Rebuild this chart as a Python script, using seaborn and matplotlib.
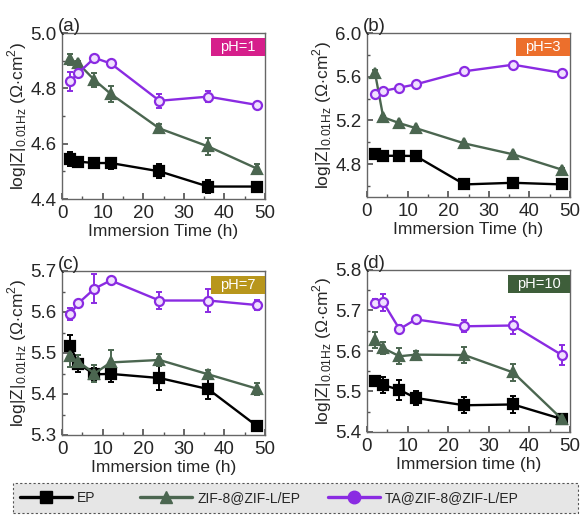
import seaborn as sns
import matplotlib.pyplot as plt
import matplotlib.lines as mlines
from matplotlib.patches import Rectangle
from matplotlib.ticker import AutoMinorLocator, MultipleLocator
import pandas as pd
import numpy as np

hours = [2, 4, 8, 12, 24, 36, 48]
series_names = ["EP", "ZIF-8@ZIF-L/EP", "TA@ZIF-8@ZIF-L/EP"]

# pH = 1
a_ep = [4.545, 4.535, 4.53, 4.53, 4.50, 4.445, 4.445]
a_ep_err = [0.025, 0.006, 0.01, 0.02, 0.025, 0.025, 0.01]
a_zif = [4.905, 4.89, 4.83, 4.78, 4.655, 4.59, 4.51]
a_zif_err = [0.02, 0.01, 0.025, 0.03, 0.015, 0.03, 0.015]
a_ta = [4.825, 4.855, 4.91, 4.89, 4.755, 4.77, 4.74]
a_ta_err = [0.035, 0.01, 0.01, 0.01, 0.025, 0.02, 0.01]

# pH = 3
b_ep = [4.89, 4.877, 4.877, 4.875, 4.615, 4.63, 4.615]
b_ep_err = [0.015, 0.01, 0.01, 0.015, 0.015, 0.015, 0.015]
b_zif = [5.63, 5.23, 5.175, 5.13, 4.99, 4.89, 4.75]
b_zif_err = [0.03, 0.015, 0.01, 0.01, 0.015, 0.01, 0.015]
b_ta = [5.44, 5.47, 5.50, 5.53, 5.65, 5.71, 5.635]
b_ta_err = [0.02, 0.02, 0.01, 0.01, 0.015, 0.015, 0.015]

# pH = 7
c_ep = [5.518, 5.474, 5.448, 5.449, 5.439, 5.412, 5.322]
c_ep_err = [0.025, 0.02, 0.015, 0.02, 0.03, 0.025, 0.01]
c_zif = [5.492, 5.479, 5.45, 5.477, 5.483, 5.448, 5.413]
c_zif_err = [0.025, 0.015, 0.02, 0.03, 0.015, 0.01, 0.015]
c_ta = [5.595, 5.621, 5.657, 5.677, 5.628, 5.628, 5.617]
c_ta_err = [0.015, 0.008, 0.035, 0.008, 0.02, 0.027, 0.012]

# pH = 10
d_ep = [5.526, 5.516, 5.504, 5.484, 5.466, 5.468, 5.432]
d_ep_err = [0.01, 0.02, 0.025, 0.018, 0.02, 0.02, 0.006]
d_zif = [5.628, 5.607, 5.587, 5.591, 5.59, 5.547, 5.432]
d_zif_err = [0.02, 0.015, 0.02, 0.01, 0.02, 0.022, 0.006]
d_ta = [5.718, 5.72, 5.654, 5.678, 5.661, 5.663, 5.59]
d_ta_err = [0.01, 0.02, 0.01, 0.008, 0.015, 0.02, 0.025]

panels = [
    ("(a)", "pH=1", "#d61f8b", (4.4, 5.0), 0.2, "Immersion Time (h)",
     [a_ep, a_zif, a_ta], [a_ep_err, a_zif_err, a_ta_err]),
    ("(b)", "pH=3", "#ec6f2c", (4.5, 6.0), 0.4, "Immersion Time (h)",
     [b_ep, b_zif, b_ta], [b_ep_err, b_zif_err, b_ta_err]),
    ("(c)", "pH=7", "#b8961c", (5.3, 5.7), 0.1, "Immersion time (h)",
     [c_ep, c_zif, c_ta], [c_ep_err, c_zif_err, c_ta_err]),
    ("(d)", "pH=10", "#3e5e3a", (5.4, 5.8), 0.1, "Immersion time (h)",
     [d_ep, d_zif, d_ta], [d_ep_err, d_zif_err, d_ta_err]),
]

colors = ["#000000", "#4b6650", "#8a2be2"]
markers = ["s", "^", "o"]
faces = ["#000000", "#4b6650", "#f0e0ff"]

sns.set_theme(style="ticks")
plt.rcParams["font.family"] = ["Liberation Sans", "DejaVu Sans"]
plt.rcParams["mathtext.fontset"] = "custom"
plt.rcParams["mathtext.rm"] = "Liberation Sans"

fig = plt.figure(figsize=(5.83, 5.15), dpi=100)
W, H = 583, 515
boxes = [(62, 33, 203, 166), (367, 33, 203, 164),
         (62, 271, 203, 164), (367, 270, 203, 162)]

ylabel = r"log|Z|$_{\mathregular{0.01Hz}}$ ($\Omega$$\cdot$cm$^{\mathregular{2}}$)"

badges = []
for (tag, ph, phcol, ylim, ystep, xlab, ys, errs), (x0, y0, w, h) in zip(panels, boxes):
    ax = fig.add_axes([x0 / W, 1 - (y0 + h) / H, w / W, h / H])
    for name, y, e, c, m, fc in zip(series_names, ys, errs, colors, markers, faces):
        df = pd.DataFrame({"t": hours, "v": y})
        sns.lineplot(data=df, x="t", y="v", ax=ax, color=c, marker=m,
                     markersize=6.5, markerfacecolor=fc, markeredgecolor=c,
                     markeredgewidth=1.6, linewidth=1.7, zorder=3)
        ax.errorbar(hours, y, yerr=e, fmt="none", ecolor=c, elinewidth=1.4,
                    capsize=2.5, capthick=1.4, zorder=2)
    ax.set_xlim(0, 50)
    ax.set_ylim(*ylim)
    ax.xaxis.set_major_locator(MultipleLocator(10))
    ax.yaxis.set_major_locator(MultipleLocator(ystep))
    ax.xaxis.set_minor_locator(AutoMinorLocator(2))
    ax.yaxis.set_minor_locator(AutoMinorLocator(2))
    ax.tick_params(which="both", direction="in", labelsize=13.5, color="#555555")
    ax.tick_params(axis="x", pad=4)
    ax.tick_params(axis="y", pad=4)
    ax.tick_params(which="major", length=4)
    ax.tick_params(which="minor", length=2)
    ax.yaxis.set_major_formatter(plt.FormatStrFormatter("%.1f"))
    for s in ax.spines.values():
        s.set_color("#666666")
        s.set_linewidth(1.0)
    ax.set_xlabel(xlab, fontsize=12.5, labelpad=2)
    ax.set_ylabel(ylabel, fontsize=12.5, labelpad=1)
    ax.text(-0.02, 0.99, tag, transform=ax.transAxes, fontsize=13.5,
            ha="left", va="bottom")
    t = ax.text(0.955, 0.915, ph, transform=ax.transAxes, fontsize=10.5,
                color="white", ha="right", va="center", zorder=6)
    badges.append((ax, t, phcol))

# badge boxes sized from the drawn text
fig.canvas.draw()
r = fig.canvas.get_renderer()
for ax, t, phcol in badges:
    bb = t.get_window_extent(r)
    inv = ax.transAxes.inverted()
    (bx0, by0), (bx1, by1) = inv.transform([(bb.x0 - 9, bb.y0 - 2),
                                            (bb.x1 + 9, bb.y1 + 2)])
    ax.add_patch(Rectangle((bx0, by0), bx1 - bx0, by1 - by0,
                           transform=ax.transAxes, fc=phcol, ec="none",
                           zorder=5))

# dashed legend box
fig.patches.append(Rectangle((13 / W, 1 - 513 / H), 565 / W, 30 / H,
                             transform=fig.transFigure, fc="#e6e6e6",
                             ec="#555555", ls=(0, (2, 2)), lw=0.8))

legend_x = [14, 134, 322]
for name, c, m, lx in zip(series_names, colors, markers, legend_x):
    hnd = mlines.Line2D([], [], color=c, marker=m, markersize=9, linewidth=2.4,
                        markerfacecolor=c)
    fig.legend([hnd], [name], loc="center left",
               bbox_to_anchor=(lx / W, 1 - 498 / H), frameon=False,
               fontsize=10, handlelength=3.8, handletextpad=0.35,
               borderaxespad=0.0)

fig.savefig("out.png", dpi=100)
